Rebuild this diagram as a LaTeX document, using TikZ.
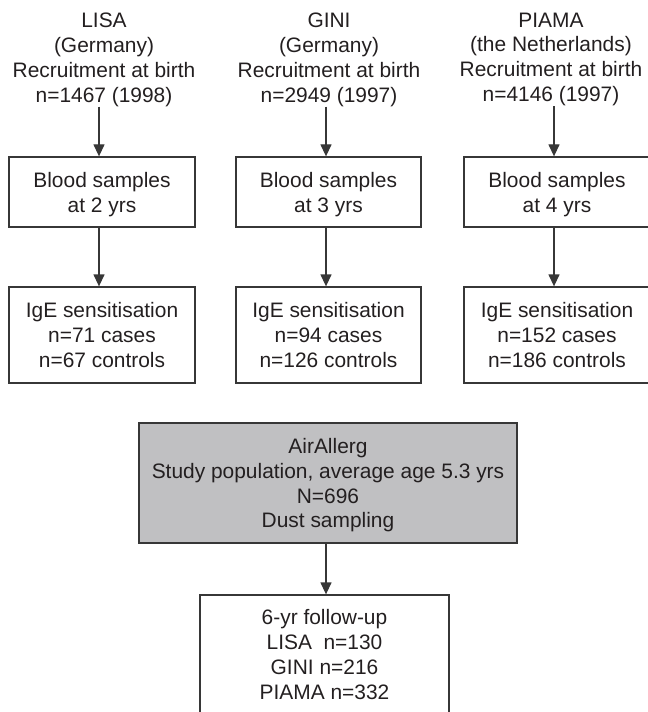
\documentclass[tikz,border=0pt]{standalone}
\usepackage{fontspec}
\setmainfont{Liberation Sans}
\usetikzlibrary{arrows.meta}
\definecolor{ink}{RGB}{35,31,32}
\definecolor{edge}{RGB}{55,55,55}
\definecolor{boxgray}{RGB}{192,192,194}
\newcommand{\topfix}{\rule{0pt}{19.5bp}}
\tikzset{
  txt/.style={font=\fontsize{21}{25}\selectfont, text=ink, align=center, inner sep=0pt},
  box/.style={txt, draw=edge, line width=1.3bp, rectangle},
  arr/.style={draw=edge, line width=1.3bp, -{Triangle[length=12bp,width=11bp]}},
}
\begin{document}
\begin{tikzpicture}[x=1bp,y=-1bp]
\useasboundingbox (0,0) rectangle (648,712);
\clip (0,0) rectangle (648,712);
% top texts
\node[txt, anchor=north] (t1) at (104,12.5) {LISA\\(Germany)\\Recruitment at birth\\n=1467 (1998)};
\node[txt, anchor=north] (t2) at (329,12.5) {GINI\\(Germany)\\Recruitment at birth\\n=2949 (1997)};
\node[txt, anchor=north] (t3) at (551,12.5) {PIAMA\\(the Netherlands)\\Recruitment at birth\\n=4146 (1997)};
% blood boxes
\node[box, minimum width=186bp, minimum height=70bp] (b1) at (102,192) {\topfix Blood samples\\at 2 yrs};
\node[box, minimum width=185bp, minimum height=70bp] (b2) at (328.5,192) {\topfix Blood samples\\at 3 yrs};
\node[box, minimum width=186bp, minimum height=70bp] (b3) at (557,192) {\topfix Blood samples\\at 4 yrs};
% IgE boxes
\node[box, minimum width=186bp, minimum height=96bp] (i1) at (102,335) {IgE sensitisation\\n=71 cases\\n=67 controls};
\node[box, minimum width=185bp, minimum height=96bp] (i2) at (328.5,335) {IgE sensitisation\\n=94 cases\\n=126 controls};
\node[box, minimum width=186bp, minimum height=96bp] (i3) at (557,335) {IgE sensitisation\\n=152 cases\\n=186 controls};
% AirAllerg
\node[box, fill=boxgray, minimum width=378bp, minimum height=120bp] (air) at (328,483) {\topfix AirAllerg\\Study population, average age 5.3 yrs\\N=696\\Dust sampling};
% follow-up
\node[box, minimum width=249bp, minimum height=119bp] (fu) at (324.5,654.5) {6-yr follow-up\\LISA\ \ n=130\\GINI n=216\\PIAMA n=332};
% arrows
\draw[arr] ([xshift=-3bp]b1.north |- t1.south) -- ([xshift=-3bp]b1.north);
\draw[arr] ([xshift=-2.5bp]b2.north |- t2.south) -- ([xshift=-2.5bp]b2.north);
\draw[arr] ([xshift=-3bp]b3.north |- t3.south) -- ([xshift=-3bp]b3.north);
\draw[arr] ([xshift=-3bp]b1.south) -- ([xshift=-3bp]i1.north);
\draw[arr] ([xshift=-2.5bp]b2.south) -- ([xshift=-2.5bp]i2.north);
\draw[arr] ([xshift=-3bp]b3.south) -- ([xshift=-3bp]i3.north);
\draw[arr] ([xshift=1.5bp]fu.north |- air.south) -- ([xshift=1.5bp]fu.north);
\end{tikzpicture}
\end{document}
